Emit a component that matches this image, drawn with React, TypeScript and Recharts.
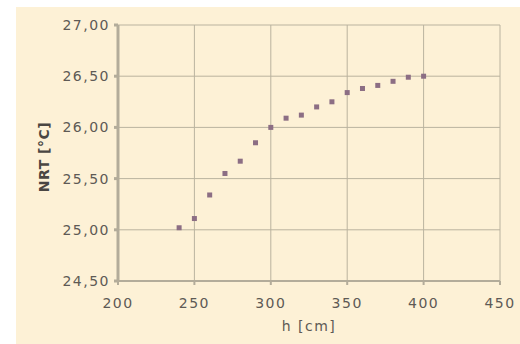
import React from 'react';
import { ScatterChart, Scatter, XAxis, YAxis, CartesianGrid, Label } from 'recharts';

// Height of the room (cm) against mean radiant temperature (°C)
const heights = [240, 250, 260, 270, 280, 290, 300, 310, 320, 330, 340, 350, 360, 370, 380, 390, 400];
const mrtValues = [25.02, 25.11, 25.34, 25.55, 25.67, 25.85, 26.0, 26.09, 26.12, 26.2, 26.25, 26.34, 26.38, 26.41, 26.45, 26.49, 26.5];
const xTicks = [200, 250, 300, 350, 400, 450];
const yTicks = [24.5, 25, 25.5, 26, 26.5, 27];

const points = heights.map((h, i) => ({ h, mrt: mrtValues[i] }));

const textColor = '#5e5a55';
const gridColor = '#bab39f';
const axisColor = '#b3ac9a';

// decimal comma, two places
const fmtY = (v: number) => v.toFixed(2).replace('.', ',');

const SquareDot = (props: any) => {
  const { cx, cy } = props;
  return <rect x={cx - 2.5} y={cy - 2.5} width={5} height={5} fill="#8c6e84" />;
};

const YLabel = (props: any) => {
  const { viewBox } = props;
  const x = viewBox.x + 29;
  const y = viewBox.y + viewBox.height / 2 + 4;
  return (
    <text x={x} y={y} transform={`rotate(-90, ${x}, ${y})`} textAnchor="middle" dominantBaseline="middle"
      fill="#4a4642" fontSize={14} fontWeight="bold" letterSpacing={0.5}>
      NRT [°C]
    </text>
  );
};

const XLabel = (props: any) => {
  const { viewBox } = props;
  return (
    <text x={viewBox.x + viewBox.width / 2} y={viewBox.y + 46} textAnchor="middle" dominantBaseline="middle"
      fill={textColor} fontSize={14} letterSpacing={1.5}>
      h [cm]
    </text>
  );
};

export default function App() {
  return (
    <div style={{ position: 'absolute', left: 0, top: 0, width: 520, height: 344, background: '#fff' }}>
      <div style={{ position: 'absolute', left: 16, top: 7, width: 504, height: 337, background: '#fdf1d6', fontFamily: 'DejaVu Sans' }}>
        <ScatterChart width={504} height={337} margin={{ top: 18, right: 20, bottom: 0, left: 0 }}>
          <CartesianGrid stroke={gridColor} strokeWidth={1} />
          <XAxis
            type="number"
            dataKey="h"
            domain={[200, 450]}
            ticks={xTicks}
            height={63}
            tickSize={4}
            tickMargin={13}
            stroke={axisColor}
            strokeWidth={2}
            tick={{ fill: textColor, fontSize: 14, letterSpacing: 1.5 }}
          >
            <Label content={XLabel} />
          </XAxis>
          <YAxis
            type="number"
            dataKey="mrt"
            domain={[24.5, 27]}
            ticks={yTicks}
            width={102}
            tickSize={4}
            tickMargin={4}
            tickFormatter={fmtY}
            stroke={axisColor}
            strokeWidth={3}
            tick={{ fill: textColor, fontSize: 14, letterSpacing: 1.5 }}
          >
            <Label content={YLabel} />
          </YAxis>
          <Scatter data={points} shape={SquareDot} isAnimationActive={false} />
        </ScatterChart>
      </div>
    </div>
  );
}
